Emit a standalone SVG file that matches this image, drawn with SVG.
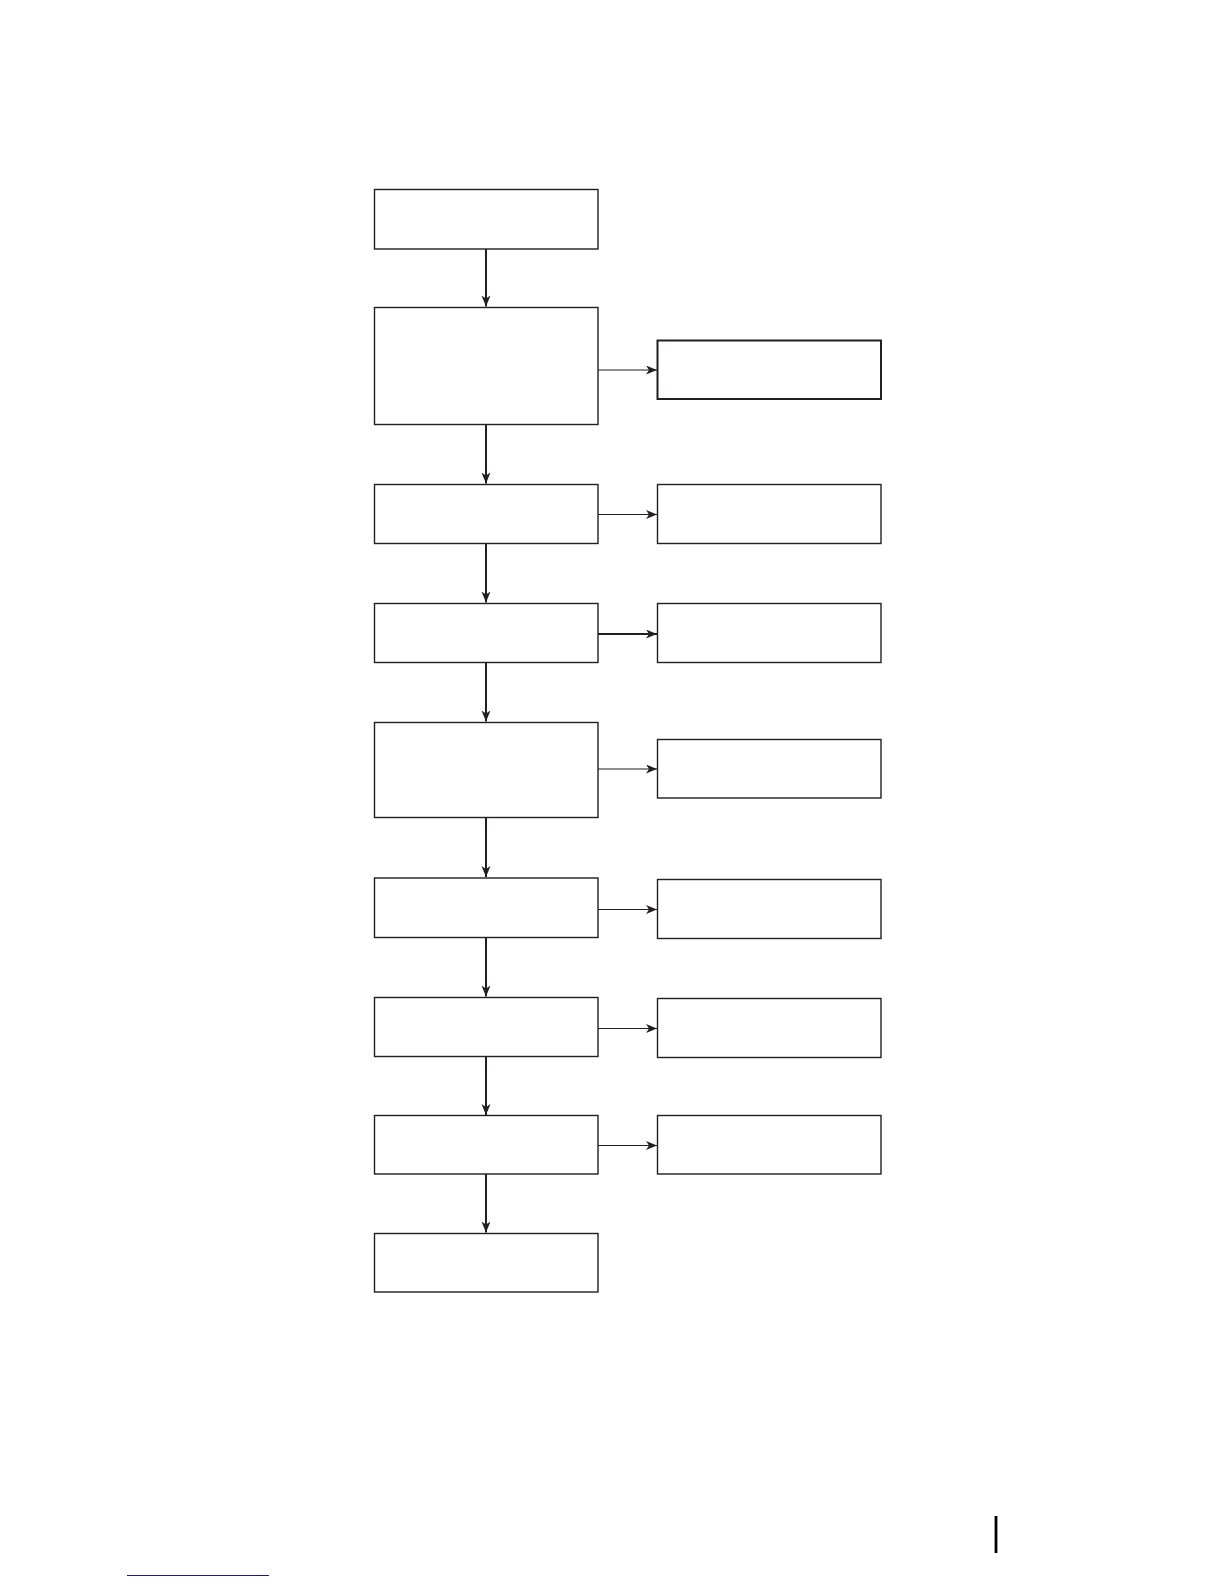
<svg xmlns="http://www.w3.org/2000/svg" width="1224" height="1584" viewBox="0 0 1224 1584">
  <style>
    .box { fill: #ffffff; stroke: #231f20; stroke-width: 1.4; }
    .v { stroke: #231f20; stroke-width: 2; fill: none; marker-end: url(#ah); }
    .h { stroke: #231f20; stroke-width: 1.1; fill: none; marker-end: url(#ah); }
    .hb { stroke: #231f20; stroke-width: 2; fill: none; marker-end: url(#ah); }
  </style>
  <defs>
    <marker id="ah" markerUnits="userSpaceOnUse" markerWidth="12" markerHeight="10" refX="11" refY="4.5" orient="auto">
      <path d="M0,0 L11,4.5 L0,9 L3,4.5 z" fill="#231f20"/>
    </marker>
  </defs>
  <rect width="1224" height="1584" fill="#ffffff"/>

  <g id="connectors">
    <line class="v" x1="486" y1="249" x2="486" y2="306.5"/>
    <line class="v" x1="486" y1="424.5" x2="486" y2="483.5"/>
    <line class="v" x1="486" y1="543.5" x2="486" y2="602.5"/>
    <line class="v" x1="486" y1="662.5" x2="486" y2="721.5"/>
    <line class="v" x1="486" y1="817.5" x2="486" y2="877"/>
    <line class="v" x1="486" y1="937.5" x2="486" y2="996.5"/>
    <line class="v" x1="486" y1="1056.5" x2="486" y2="1115"/>
    <line class="v" x1="486" y1="1174" x2="486" y2="1232.5"/>
    <line class="h" x1="598" y1="370" x2="657" y2="370"/>
    <line class="h" x1="598" y1="514.5" x2="657" y2="514.5"/>
    <line class="hb" x1="598" y1="634" x2="657" y2="634"/>
    <line class="h" x1="598" y1="769" x2="657" y2="769"/>
    <line class="h" x1="598" y1="909.5" x2="657" y2="909.5"/>
    <line class="h" x1="598" y1="1028.5" x2="657" y2="1028.5"/>
    <line class="h" x1="598" y1="1145.5" x2="657" y2="1145.5"/>
  </g>

  <g id="n1"><rect class="box" x="374.5" y="189.5" width="223.5" height="59.5"/></g>
  <g id="n2"><rect class="box" x="374.5" y="307.5" width="223.5" height="117"/></g>
  <g id="n3"><rect class="box" x="374.5" y="484.5" width="223.5" height="59"/></g>
  <g id="n4"><rect class="box" x="374.5" y="603.5" width="223.5" height="59"/></g>
  <g id="n5"><rect class="box" x="374.5" y="722.5" width="223.5" height="95"/></g>
  <g id="n6"><rect class="box" x="374.5" y="878" width="223.5" height="59.5"/></g>
  <g id="n7"><rect class="box" x="374.5" y="997.5" width="223.5" height="59"/></g>
  <g id="n8"><rect class="box" x="374.5" y="1115.5" width="223.5" height="58.5"/></g>
  <g id="n9"><rect class="box" x="374.5" y="1233.5" width="223.5" height="58.5"/></g>

  <g id="r1"><rect class="box" x="657.5" y="340.5" width="223.5" height="58.5" style="stroke-width:2"/></g>
  <g id="r2"><rect class="box" x="657.5" y="484.5" width="223.5" height="59"/></g>
  <g id="r3"><rect class="box" x="657.5" y="603.5" width="223.5" height="59"/></g>
  <g id="r4"><rect class="box" x="657.5" y="739.5" width="223.5" height="58.5"/></g>
  <g id="r5"><rect class="box" x="657.5" y="879.5" width="223.5" height="59"/></g>
  <g id="r6"><rect class="box" x="657.5" y="998.5" width="223.5" height="59"/></g>
  <g id="r7"><rect class="box" x="657.5" y="1115.5" width="223.5" height="58.5"/></g>

  <line x1="127" y1="1575.5" x2="269" y2="1575.5" stroke="#1a1a99" stroke-width="1.2"/>
  <line x1="996" y1="1516" x2="996" y2="1553" stroke="#000000" stroke-width="2.8"/>
</svg>
